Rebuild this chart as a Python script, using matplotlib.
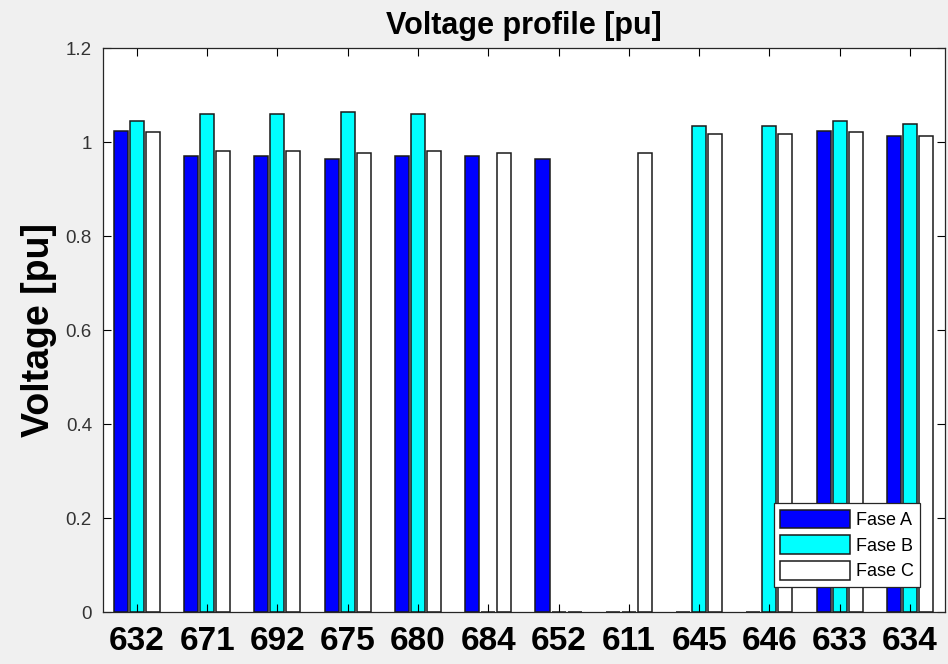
import numpy as np
import matplotlib
matplotlib.use('Agg')
import matplotlib.pyplot as plt

nodes = ['632', '671', '692', '675', '680', '684', '652', '611', '645', '646', '633', '634']
fase_a = [1.024, 0.970, 0.970, 0.963, 0.970, 0.970, 0.963, 0, 0, 0, 1.024, 1.013]
fase_b = [1.045, 1.060, 1.060, 1.064, 1.060, 0, 0, 0, 1.035, 1.035, 1.045, 1.038]
fase_c = [1.021, 0.981, 0.981, 0.977, 0.980, 0.977, 0, 0.977, 1.017, 1.017, 1.021, 1.013]
labels = ['Fase A', 'Fase B', 'Fase C']

plt.rcParams['font.family'] = ['Liberation Sans', 'DejaVu Sans']

fig = plt.figure(figsize=(9.48, 6.64), dpi=100, facecolor='#f0f0f0')
ax = fig.add_axes([0.1087, 0.0783, 0.8883, 0.8494])
ax.set_facecolor('white')

x = np.arange(1, len(nodes) + 1)
w = 0.2
off = 0.228
colors = ['#0000ff', '#00ffff', '#ffffff']
for i, (vals, c, lab) in enumerate(zip([fase_a, fase_b, fase_c], colors, labels)):
    ax.bar(x + (i - 1) * off, vals, width=w, color=c, edgecolor='#1a1a1a',
           linewidth=1.1, label=lab)

ax.set_xlim(0.52, 12.5)
ax.set_ylim(0, 1.2)
ax.set_yticks(np.arange(0, 1.21, 0.2))
ax.set_yticklabels(['0', '0.2', '0.4', '0.6', '0.8', '1', '1.2'])
ax.set_xticks(x)
ax.set_xticklabels(nodes, fontsize=24, fontweight='bold')
ax.tick_params(axis='y', labelsize=13.5, labelcolor='#333333', direction='in',
               right=True, length=6, pad=8)
ax.tick_params(axis='x', direction='in', top=True, length=6, pad=10)
for s in ax.spines.values():
    s.set_color('#262626')
    s.set_linewidth(0.9)

ax.set_title('Voltage profile [pu]', fontsize=22, fontweight='bold', pad=10)
ax.set_ylabel('Voltage [pu]', fontsize=27, fontweight='bold', labelpad=6)

leg = ax.legend(loc='lower right', fontsize=13, handlelength=3.9, handleheight=1.2,
                borderaxespad=1.4, fancybox=False, edgecolor='#262626',
                framealpha=1, handletextpad=0.3, labelspacing=0.35, borderpad=0.35)
leg.get_frame().set_linewidth(0.9)

fig.savefig('out.png', dpi=100, facecolor=fig.get_facecolor())
